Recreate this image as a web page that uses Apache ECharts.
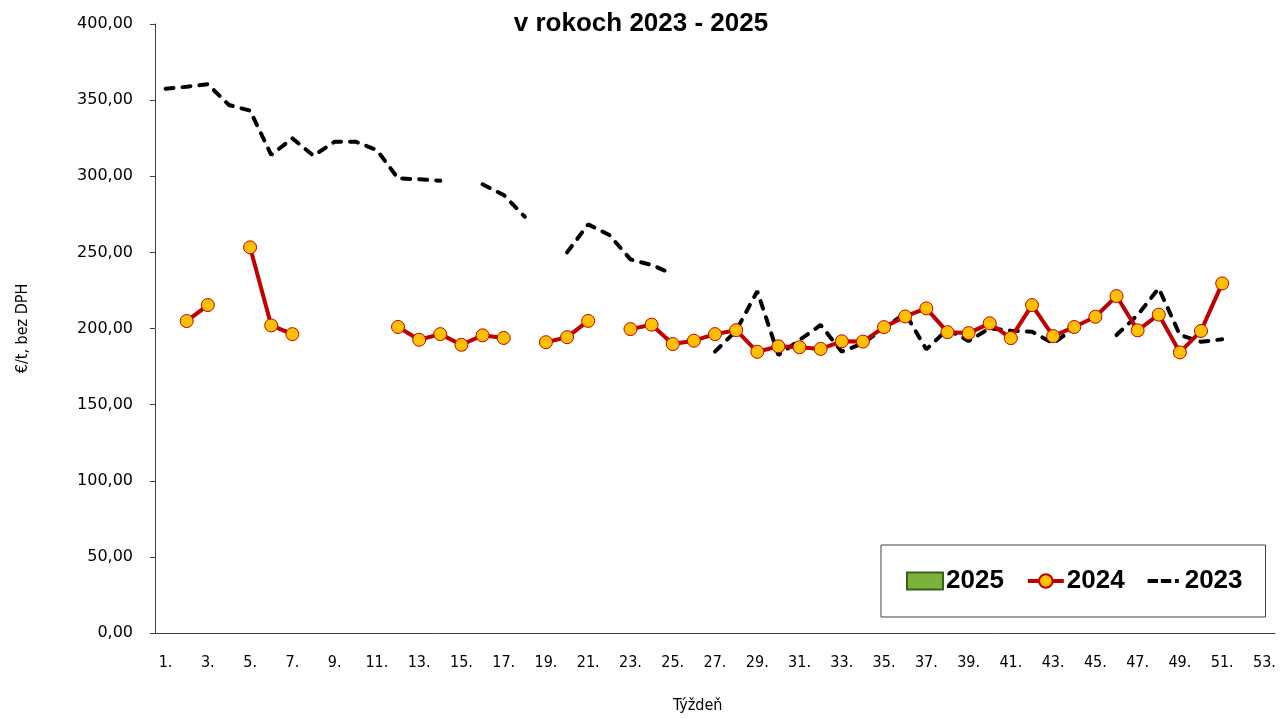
<!DOCTYPE html>
<html>
<head>
<meta charset="utf-8">
<script src="https://cdn.jsdelivr.net/npm/echarts@6/dist/echarts.min.js"></script>
<style>
  html, body { margin: 0; padding: 0; background: #fff; }
  #main { width: 1282px; height: 719px; }
</style>
</head>
<body>
<div id="main"></div>
<script>
// tyzdne 1. - 53.
var weeks = [];
for (var w = 1; w <= 53; w++) weeks.push(w + '.');

var values2025 = [];

var values2024 = [
  null, 204.9, 215.4, null, 253.3, 202.0, 196.3, null, null, null,
  null, 201.0, 192.6, 196.3, 189.3, 195.5, 193.8, null, 191.0, 194.3,
  205.0, null, 199.6, 202.5, 189.8, 192.0, 196.3, 198.9, 184.7, 188.3,
  187.7, 186.6, 191.6, 191.4, 200.9, 207.9, 213.2, 197.6, 197.0, 203.4,
  193.7, 215.4, 195.0, 201.0, 207.7, 221.3, 198.8, 209.1, 184.3, 198.4,
  229.6, null, null
];

var values2023 = [
  357.5, 358.8, 360.4, 346.8, 343.1, 314.0, 324.9, 313.5, 322.7, 322.7,
  317.2, 298.6, 298.0, 297.1, null, 294.7, 287.7, 273.4, null, 250.0,
  268.4, 261.4, 245.4, 241.7, 235.8, null, 184.8, 198.5, 224.5, 182.6,
  192.4, 202.3, 184.8, 190.3, 200.1, 210.0, 186.3, 199.4, 191.8, 200.1,
  198.6, 197.9, 190.3, 200.1, null, 195.7, 208.9, 226.4, 195.7, 191.3,
  192.9, null, null
];

var narrow = '"Liberation Sans Narrow", "DejaVu Sans Condensed", sans-serif';
// ikona legendy pre 2023: dve ciarky a bodka
var dashIcon = 'path://M0,0h1v0h-1z M1,7h11v4h-11z M15,7h11v4h-11z M30,7h4v4h-4z M35,18h1v0h-1z';

var chart = echarts.init(document.getElementById('main'));
chart.setOption({
  animation: false,
  backgroundColor: '#fff',
  title: {
    text: 'v rokoch 2023 - 2025',
    left: 'center',
    top: 6,
    textStyle: { fontFamily: '"Liberation Sans", sans-serif', fontSize: 26, fontWeight: 'bold', color: '#000' }
  },
  legend: {
    left: 881,
    top: 545,
    padding: [23, 23, 23, 25],
    borderColor: '#404040',
    borderWidth: 1,
    itemWidth: 36,
    itemHeight: 17,
    itemGap: 22,
    lineStyle: { width: 'inherit' },
    data: [
      { name: '2025', icon: 'rect' },
      { name: '2024' },
      { name: '2023', icon: dashIcon }
    ],
    textStyle: { fontFamily: '"Liberation Sans", sans-serif', fontSize: 26, fontWeight: 'bold', color: '#000', padding: [0, 0, 0, -2] }
  },
  graphic: [{
    type: 'text',
    left: 673,
    top: 698,
    style: { text: 'Týždeň', font: '16px ' + narrow, fill: '#000' }
  }],
  grid: { left: 155, right: 7, top: 24, bottom: 86 },
  xAxis: {
    type: 'category',
    data: weeks,
    boundaryGap: true,
    axisLine: { lineStyle: { color: '#404040', width: 1 } },
    axisTick: { interval: 1, length: 6, lineStyle: { color: '#404040' } },
    axisLabel: { interval: 1, margin: 22, fontFamily: narrow, fontSize: 16, color: '#000' },
    splitLine: { show: false }
  },
  yAxis: {
    type: 'value',
    min: 0,
    max: 400,
    interval: 50,
    name: '€/t, bez DPH',
    nameLocation: 'middle',
    nameGap: 124,
    nameTextStyle: { fontFamily: narrow, fontSize: 16, color: '#000' },
    axisLine: { show: true, lineStyle: { color: '#404040', width: 1 } },
    axisTick: { show: true, length: 5, inside: false, lineStyle: { color: '#404040' } },
    axisLabel: {
      margin: 22,
      fontFamily: '"DejaVu Sans", sans-serif',
      fontSize: 16,
      color: '#000',
      formatter: function (v) { return v.toFixed(2).replace('.', ','); }
    },
    splitLine: { show: false }
  },
  series: [
    {
      name: '2025',
      type: 'bar',
      data: values2025,
      itemStyle: { color: '#7AB33A', borderColor: '#3A5F1A', borderWidth: 1 }
    },
    {
      name: '2023',
      type: 'line',
      data: values2023,
      connectNulls: false,
      symbol: 'none',
      z: 2,
      lineStyle: { color: '#000', width: 4, type: [8, 9], cap: 'round' },
      itemStyle: { color: '#000' }
    },
    {
      name: '2024',
      type: 'line',
      data: values2024,
      connectNulls: false,
      symbol: 'circle',
      symbolSize: 13,
      z: 3,
      lineStyle: { color: '#C00000', width: 4 },
      itemStyle: { color: '#FFC000', borderColor: '#C00000', borderWidth: 1 }
    }
  ]
});
</script>
</body>
</html>
